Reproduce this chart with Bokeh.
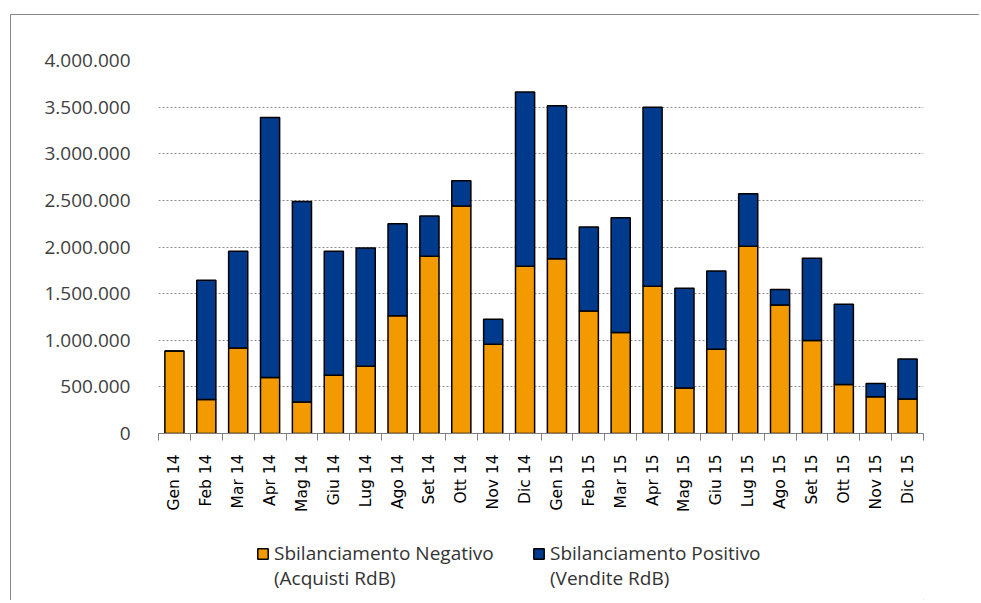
import math
from bokeh.plotting import figure
from bokeh.layouts import column
from bokeh.models import (ColumnDataSource, Range1d, FixedTicker, Legend, LegendItem)
from bokeh.embed import file_html
from bokeh.resources import INLINE

months = ["Gen 14", "Feb 14", "Mar 14", "Apr 14", "Mag 14", "Giu 14", "Lug 14", "Ago 14",
          "Set 14", "Ott 14", "Nov 14", "Dic 14", "Gen 15", "Feb 15", "Mar 15", "Apr 15",
          "Mag 15", "Giu 15", "Lug 15", "Ago 15", "Set 15", "Ott 15", "Nov 15", "Dic 15"]
neg = [886000, 364000, 918000, 600000, 339000, 625000, 721000, 1264000, 1900000, 2439000,
       957000, 1793000, 1875000, 1314000, 1082000, 1579000, 489000, 904000, 2007000,
       1379000, 996000, 525000, 393000, 371000]
pos = [0, 1279000, 1036000, 2789000, 2150000, 1329000, 1268000, 986000, 432000, 272000,
       268000, 1868000, 1639000, 900000, 1232000, 1921000, 1068000, 839000, 564000,
       164000, 883000, 861000, 143000, 429000]
series_line1 = ["Sbilanciamento Negativo", "Sbilanciamento Positivo"]
series_line2 = ["(Acquisti RdB)", "(Vendite RdB)"]
y_ticks = [0, 500000, 1000000, 1500000, 2000000, 2500000, 3000000, 3500000, 4000000]

ORANGE = "#F29A00"
BLUE = "#003A8C"
GRAY = "#7f7f7f"
FILLS = [ORANGE, BLUE]

centers = [i + 0.5 for i in range(len(months))]
src = ColumnDataSource(dict(x=centers, neg=neg, pos=pos, month=months))

W = 968
p = figure(width=W, height=505, output_backend="svg", toolbar_location=None,
           x_range=Range1d(0, len(months)), y_range=Range1d(0, 4000000),
           min_border_left=147, min_border_right=56, min_border_top=45, min_border_bottom=87)
p.outline_line_color = None
p.background_fill_color = "white"
p.border_fill_color = "white"

rs = p.vbar_stack(["neg", "pos"], x="x", width=0.6, source=src,
                  fill_color=FILLS, line_color="black", line_width=1.5)

# x axis: labels at centers, ticks at category boundaries
p.xaxis.ticker = FixedTicker(ticks=centers, minor_ticks=list(range(len(months) + 1)))
p.xaxis.major_label_overrides = {c: m for c, m in zip(centers, months)}
p.xaxis.major_label_orientation = math.pi / 2
p.xaxis.major_tick_out = 0
p.xaxis.major_tick_in = 0
p.xaxis.minor_tick_out = 7
p.xaxis.minor_tick_in = 0
p.xaxis.minor_tick_line_color = GRAY
p.xaxis.axis_line_color = GRAY
p.xaxis.major_label_standoff = 14
p.xaxis.major_label_text_font = "DejaVu Sans"
p.xaxis.major_label_text_font_size = "15.5px"
p.xaxis.major_label_text_color = "#000000"
p.xgrid.visible = False

# y axis
p.yaxis.ticker = FixedTicker(ticks=y_ticks)
p.yaxis.major_label_overrides = {v: f"{v:,}".replace(",", ".") for v in y_ticks}
p.yaxis.axis_line_color = None
p.yaxis.major_tick_line_color = None
p.yaxis.minor_tick_line_color = None
p.yaxis.major_label_standoff = 22
p.yaxis.major_label_text_font = "Open Sans"
p.yaxis.major_label_text_font_size = "19px"
p.yaxis.major_label_text_color = "#404040"
p.ygrid.ticker = FixedTicker(ticks=y_ticks[1:])
p.ygrid.grid_line_color = "#8c8c8c"
p.ygrid.grid_line_dash = "2 2"
p.ygrid.grid_line_width = 1

# legend strip under the chart (its frame is aligned with the chart's frame)
lf = figure(width=W, height=80, output_backend="svg", toolbar_location=None,
            x_range=Range1d(0, 1), y_range=Range1d(0, 1),
            min_border_left=0, min_border_right=0, min_border_top=0, min_border_bottom=0)
lf.axis.visible = False
lf.grid.visible = False
lf.outline_line_color = None
lf.background_fill_color = "white"
lf.border_fill_color = "white"

# swatch renderers for the legend keys (single point kept outside the visible range)
swatches = [lf.vbar(x=[5], top=[0], bottom=[0], width=0.1, fill_color=FILLS[i],
                    line_color="black", line_width=1.5) for i in range(2)]
blank = lf.vbar(x=[5], top=[0], bottom=[0], width=0.1, fill_alpha=0, line_alpha=0)

def add_legend(label, renderer, loc):
    lg = Legend(items=[LegendItem(label=label, renderers=[renderer])], location=loc)
    lg.border_line_color = None
    lg.background_fill_alpha = 0
    lg.padding = 0
    lg.margin = 0
    lg.glyph_width = 13
    lg.glyph_height = 13
    lg.label_standoff = 5
    lg.label_height = 25
    lg.label_text_font = "Open Sans"
    lg.label_text_font_size = "19px"
    lg.label_text_color = "#333333"
    lg.label_text_baseline = "middle"
    lf.add_layout(lg)

legend_x = [98, 374]
for i in range(2):
    add_legend(series_line1[i], swatches[i], (legend_x[i], 34))
    add_legend(series_line2[i], blank, (legend_x[i], 9))

page = column(p, lf, spacing=0, margin=(14, 0, 0, 10),
              styles={"border-top": "1px solid #888888", "border-left": "1px solid #888888"})

open("out.html", "w").write(file_html(page, INLINE))
